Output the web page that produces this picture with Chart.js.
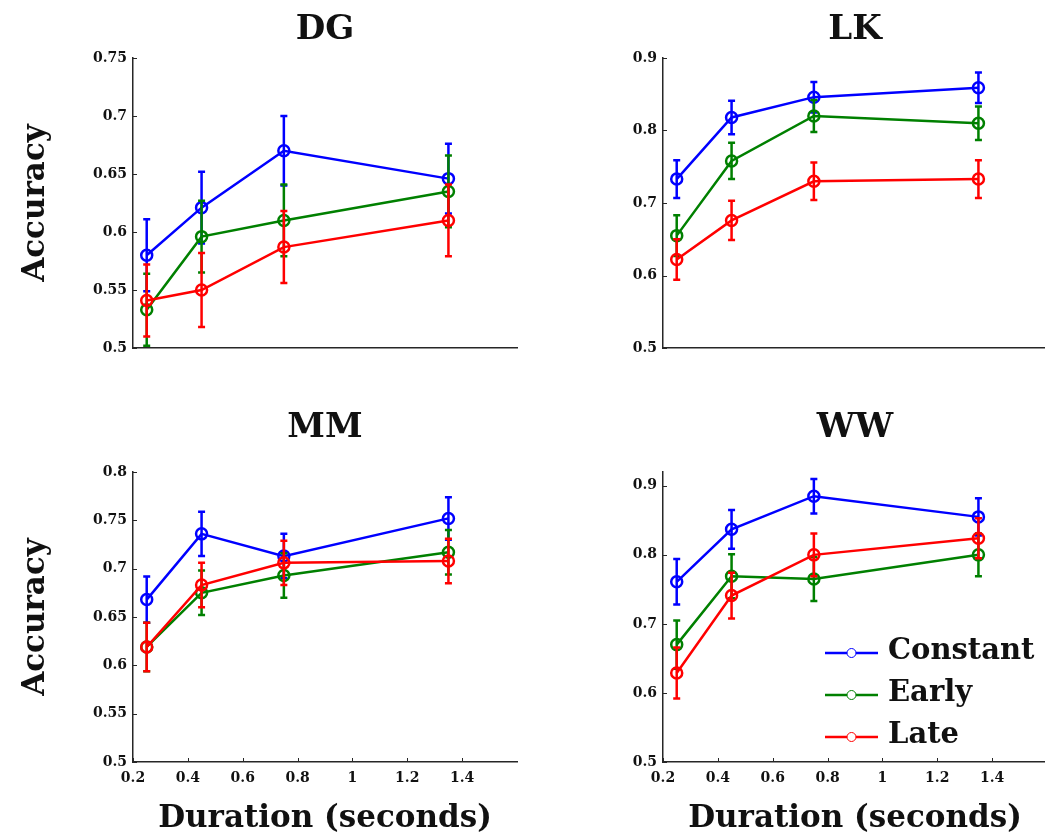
<!DOCTYPE html>
<html><head><meta charset="utf-8">
<script src="https://cdn.jsdelivr.net/npm/chart.js@4.4.0/dist/chart.umd.min.js"></script>
<style>
html,body{margin:0;padding:0;background:#fff;overflow:hidden;width:1045px;height:839px;}
.p{position:absolute;}
canvas{display:block;}
</style></head><body>
<div class="p" style="left:0;top:0"><canvas id="c0" width="530" height="400"></canvas></div>
<div class="p" style="left:530px;top:0"><canvas id="c1" width="530" height="400"></canvas></div>
<div class="p" style="left:0;top:400px"><canvas id="c2" width="530" height="439"></canvas></div>
<div class="p" style="left:530px;top:400px"><canvas id="c3" width="530" height="439"></canvas></div>
<script>
// ---------- data ----------
const durations = [0.25, 0.45, 0.75, 1.35];
const seriesNames = ['Constant', 'Early', 'Late'];
const panelNames = ['DG', 'LK', 'MM', 'WW'];
const xTitle = 'Duration (seconds)';
const yTitle = 'Accuracy';
const xTicks = [0.2, 0.4, 0.6, 0.8, 1, 1.2, 1.4];
const xRange = [0.2, 1.6];

const dgConstant = [0.580, 0.621, 0.670, 0.646];
const dgConstantErr = [0.031, 0.031, 0.030, 0.030];
const dgEarly = [0.533, 0.596, 0.610, 0.635];
const dgEarlyErr = [0.031, 0.031, 0.031, 0.031];
const dgLate = [0.541, 0.550, 0.587, 0.610];
const dgLateErr = [0.031, 0.032, 0.031, 0.031];
const dgYTicks = [0.5, 0.55, 0.6, 0.65, 0.7, 0.75];
const dgYRange = [0.5, 0.75];

const lkConstant = [0.733, 0.818, 0.846, 0.859];
const lkConstantErr = [0.026, 0.023, 0.021, 0.021];
const lkEarly = [0.655, 0.758, 0.820, 0.810];
const lkEarlyErr = [0.028, 0.025, 0.022, 0.023];
const lkLate = [0.622, 0.676, 0.730, 0.733];
const lkLateErr = [0.028, 0.027, 0.026, 0.026];
const lkYTicks = [0.5, 0.6, 0.7, 0.8, 0.9];
const lkYRange = [0.5, 0.9];

const mmConstant = [0.668, 0.736, 0.713, 0.752];
const mmConstantErr = [0.024, 0.023, 0.023, 0.022];
const mmEarly = [0.619, 0.675, 0.693, 0.717];
const mmEarlyErr = [0.025, 0.023, 0.023, 0.023];
const mmLate = [0.619, 0.683, 0.706, 0.708];
const mmLateErr = [0.025, 0.023, 0.023, 0.023];
const mmYTicks = [0.5, 0.55, 0.6, 0.65, 0.7, 0.75, 0.8];
const mmYRange = [0.5, 0.8];

const wwConstant = [0.761, 0.837, 0.885, 0.855];
const wwConstantErr = [0.033, 0.028, 0.025, 0.027];
const wwEarly = [0.670, 0.769, 0.765, 0.800];
const wwEarlyErr = [0.035, 0.032, 0.032, 0.031];
const wwLate = [0.629, 0.741, 0.800, 0.824];
const wwLateErr = [0.037, 0.033, 0.031, 0.029];
const wwYTicks = [0.5, 0.6, 0.7, 0.8, 0.9];
const wwYRange = [0.5, 0.92];

// ---------- styles ----------
const FONT = "'DejaVu Serif', serif";
const COLORS = ['#0000ff', '#008000', '#ff0000'];
const AXIS = '#262626';
const TEXT = '#111111';
const fmt = v => String(Math.round(v * 100) / 100);

const errorBarPlugin = {
  id: 'errorBars',
  afterDatasetDraw(chart, args) {
    const ds = chart.data.datasets[args.index];
    if (!ds.errors) return;
    const {ctx, scales: {x, y}} = chart;
    ctx.save();
    ctx.strokeStyle = ds.borderColor;
    ctx.lineWidth = 2.5;
    ds.data.forEach((p, i) => {
      const e = ds.errors[i];
      const px = x.getPixelForValue(p.x);
      const y1 = y.getPixelForValue(p.y - e);
      const y2 = y.getPixelForValue(p.y + e);
      ctx.beginPath();
      ctx.moveTo(px, y1); ctx.lineTo(px, y2);
      ctx.moveTo(px - 3.5, y1); ctx.lineTo(px + 3.5, y1);
      ctx.moveTo(px - 3.5, y2); ctx.lineTo(px + 3.5, y2);
      ctx.stroke();
    });
    ctx.restore();
  }
};

const inwardTicksPlugin = {
  id: 'inwardTicks',
  afterDraw(chart, args, opts) {
    const {ctx, chartArea: a, scales: {x, y}} = chart;
    ctx.save();
    ctx.strokeStyle = AXIS;
    ctx.lineWidth = 1;
    ctx.beginPath();
    y.ticks.forEach(t => {
      const py = Math.round(y.getPixelForValue(t.value)) + 0.5;
      ctx.moveTo(a.left, py); ctx.lineTo(a.left + 4, py);
    });
    if (opts.showX) {
      x.ticks.forEach(t => {
        const px = Math.round(x.getPixelForValue(t.value)) + 0.5;
        ctx.moveTo(px, a.bottom); ctx.lineTo(px, a.bottom - 4);
      });
    }
    ctx.stroke();
    ctx.restore();
  }
};

const panelTitlePlugin = {
  id: 'panelTitle',
  afterDraw(chart, args, opts) {
    const {ctx, chartArea: a} = chart;
    ctx.save();
    ctx.font = 'bold 34px ' + FONT;
    ctx.fillStyle = TEXT;
    ctx.textAlign = 'center';
    ctx.textBaseline = 'alphabetic';
    ctx.fillText(opts.text, (a.left + a.right) / 2, opts.baseline);
    ctx.restore();
  }
};

const innerLegendPlugin = {
  id: 'innerLegend',
  afterDraw(chart, args, opts) {
    if (!opts.show) return;
    const {ctx, chartArea: a} = chart;
    ctx.save();
    chart.data.datasets.forEach((ds, i) => {
      const cy = a.top + opts.firstRow + i * opts.rowGap;
      const x0 = a.left + opts.lineStart, x1 = a.left + opts.lineEnd;
      ctx.strokeStyle = ds.borderColor;
      ctx.lineWidth = 2.5;
      ctx.beginPath(); ctx.moveTo(x0, cy); ctx.lineTo(x1, cy); ctx.stroke();
      ctx.lineWidth = 1;
      ctx.fillStyle = '#ffffff';
      ctx.beginPath(); ctx.arc((x0 + x1) / 2, cy, 4.5, 0, Math.PI * 2); ctx.fill(); ctx.stroke();
      ctx.fillStyle = TEXT;
      ctx.font = 'bold 29px ' + FONT;
      ctx.textAlign = 'left';
      ctx.textBaseline = 'alphabetic';
      ctx.fillText(ds.label, x1 + 10, cy + 6);
    });
    ctx.restore();
  }
};

function makePanel(id, name, vals, errs, yRange, yTicks, cfg) {
  const datasets = seriesNames.map((s, k) => ({
    label: s,
    data: durations.map((d, i) => ({x: d, y: vals[k][i]})),
    errors: errs[k],
    borderColor: COLORS[k],
    backgroundColor: 'rgba(0,0,0,0)',
    pointBorderColor: COLORS[k],
    pointBackgroundColor: 'rgba(0,0,0,0)',
    pointRadius: 5.5,
    pointHoverRadius: 5.5,
    pointBorderWidth: 2.5,
    borderWidth: 2.5,
    tension: 0,
    order: 3 - k,
    clip: false
  }));
  const tickFont = {family: FONT, size: 14, weight: 'bold'};
  return new Chart(document.getElementById(id), {
    type: 'line',
    data: {datasets},
    plugins: [errorBarPlugin, inwardTicksPlugin, panelTitlePlugin, innerLegendPlugin],
    options: {
      responsive: false,
      animation: false,
      devicePixelRatio: 1,
      layout: {padding: {top: cfg.top, right: 13, left: 0, bottom: 0}},
      plugins: {
        legend: {display: false},
        tooltip: {enabled: false},
        title: {display: false},
        panelTitle: {text: name, baseline: cfg.titleBaseline},
        inwardTicks: {showX: cfg.showX},
        innerLegend: {show: !!cfg.legend, firstRow: 181, rowGap: 42, lineStart: 162, lineEnd: 215}
      },
      scales: {
        x: {
          type: 'linear', min: xRange[0], max: xRange[1],
          afterBuildTicks: s => { s.ticks = xTicks.map(v => ({value: v})); },
          afterFit: s => { s.height = cfg.xHeight; },
          grid: {display: false, drawTicks: false, tickLength: 0},
          border: {display: true, color: AXIS, width: 1.5},
          ticks: {display: cfg.showX, padding: 8, font: tickFont, color: TEXT, maxRotation: 0, autoSkip: false, callback: v => fmt(v)},
          title: {display: cfg.showX, text: xTitle, color: TEXT, font: {family: FONT, size: 31, weight: 'bold'}, padding: {top: 0, bottom: 1}}
        },
        y: {
          type: 'linear', min: yRange[0], max: yRange[1],
          afterBuildTicks: s => { s.ticks = yTicks.map(v => ({value: v})); },
          afterFit: s => { s.width = 133; },
          grid: {display: false, drawTicks: false, tickLength: 0},
          border: {display: true, color: AXIS, width: 1.5},
          ticks: {padding: 6, font: tickFont, color: TEXT, autoSkip: false, callback: v => fmt(v)},
          title: {display: cfg.showYTitle, text: yTitle, color: TEXT, font: {family: FONT, size: 31, weight: 'bold'}, padding: {top: 17, bottom: 0}}
        }
      }
    }
  });
}

makePanel('c0', panelNames[0], [dgConstant, dgEarly, dgLate], [dgConstantErr, dgEarlyErr, dgLateErr], dgYRange, dgYTicks,
  {top: 58, xHeight: 52, showX: false, showYTitle: true, titleBaseline: 39});
makePanel('c1', panelNames[1], [lkConstant, lkEarly, lkLate], [lkConstantErr, lkEarlyErr, lkLateErr], lkYRange, lkYTicks,
  {top: 58, xHeight: 52, showX: false, showYTitle: false, titleBaseline: 39});
makePanel('c2', panelNames[2], [mmConstant, mmEarly, mmLate], [mmConstantErr, mmEarlyErr, mmLateErr], mmYRange, mmYTicks,
  {top: 72, xHeight: 77, showX: true, showYTitle: true, titleBaseline: 37});
makePanel('c3', panelNames[3], [wwConstant, wwEarly, wwLate], [wwConstantErr, wwEarlyErr, wwLateErr], wwYRange, wwYTicks,
  {top: 72, xHeight: 77, showX: true, showYTitle: false, titleBaseline: 37, legend: true});
</script>
</body></html>
